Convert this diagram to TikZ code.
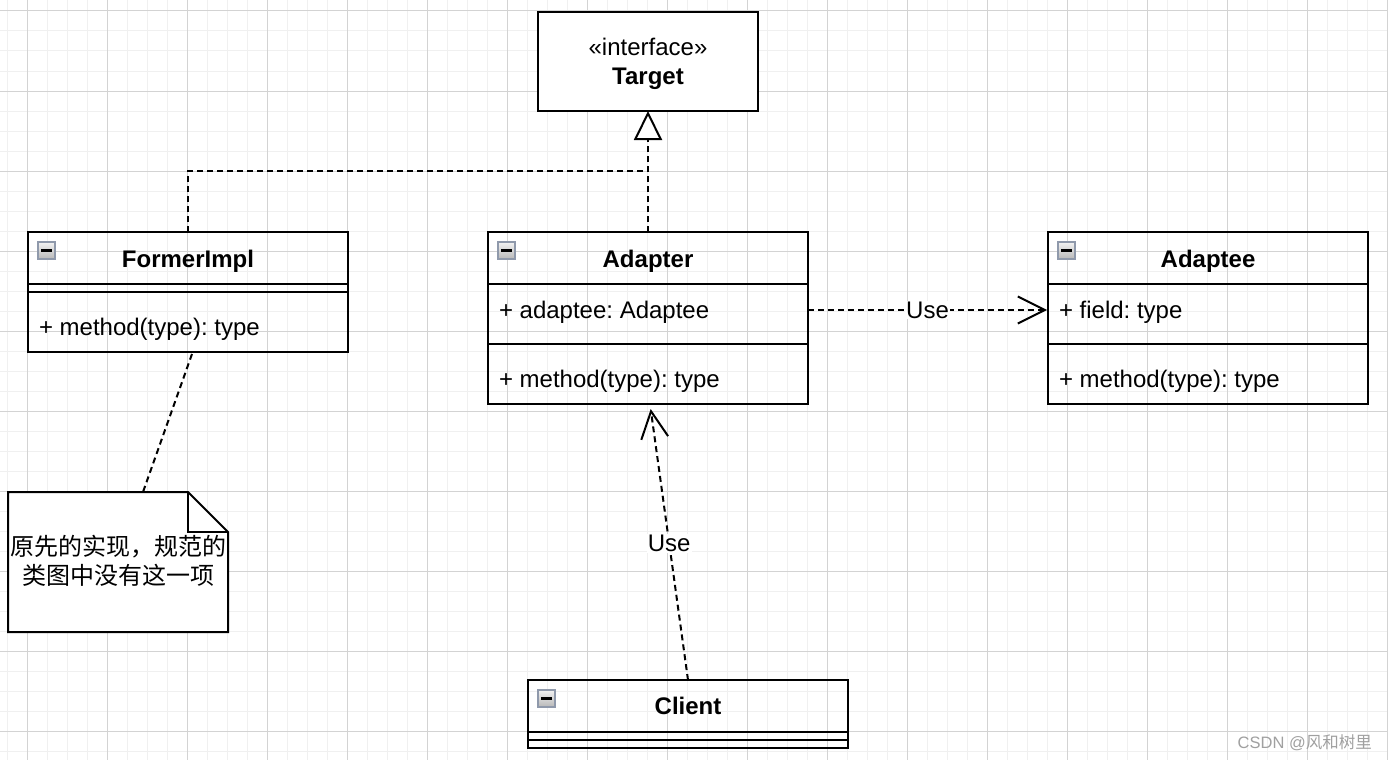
\documentclass[tikz,border=0pt]{standalone}
\usepackage{fontspec}
\setmainfont{Liberation Sans}
\newfontfamily\cjk{Noto Sans CJK SC}
\usetikzlibrary{arrows.meta,shadings}
\frenchspacing
\definecolor{minorgrid}{HTML}{F0F0F0}
\definecolor{majorgrid}{HTML}{D3D3D3}
\definecolor{iconborder}{HTML}{8F99AB}
\definecolor{icontop}{HTML}{F2F2F2}
\definecolor{iconbot}{HTML}{B8B8B8}
\definecolor{wmgrey}{HTML}{A0A0A0}
\tikzset{
  cls/.style={draw=black, line width=2pt, minimum width=320pt, inner sep=0pt, outer sep=0pt, anchor=north west},
  txt/.style={inner sep=0pt, outer sep=0pt, font=\fontsize{24}{28}\selectfont},
  btxt/.style={inner sep=0pt, outer sep=0pt, font=\fontsize{24}{28}\selectfont\bfseries},
  dline/.style={draw=black, line width=2pt, dash pattern=on 6pt off 4pt},
  lbl/.style={fill=white, inner sep=1pt, font=\fontsize{24}{28}\selectfont},
  clsicon/.style={draw=iconborder, line width=1.2pt, minimum size=17pt, inner sep=0pt,
    top color=icontop, bottom color=iconbot,
    path picture={\draw[line width=2.2pt, black] ([xshift=-5.5pt]path picture bounding box.center) -- ([xshift=5.5pt]path picture bounding box.center);}},
  barb/.style={-{Straight Barb[length=27pt,width=27pt,line width=2pt]}}
}
\begin{document}
\begin{tikzpicture}[x=1pt,y=-1pt]
\useasboundingbox (0,0) rectangle (1388,760);
\fill[white] (0,0) rectangle (1388,760);
% grid
\foreach \i in {0,...,69} \draw[minorgrid, line width=1pt] (7+20*\i,0) -- (7+20*\i,760);
\foreach \i in {0,...,37} \draw[minorgrid, line width=1pt] (0,11+20*\i) -- (1388,11+20*\i);
\foreach \i in {0,...,17} \draw[majorgrid, line width=1pt] (27+80*\i,0) -- (27+80*\i,760);
\foreach \i in {0,...,9} \draw[majorgrid, line width=1pt] (0,11+80*\i) -- (1388,11+80*\i);

% Target interface
\node[cls, fill=white, minimum width=220pt, minimum height=99pt] (target) at (538,12) {};
\node[txt, anchor=base] (targetst) at (648,55.5) {«interface»};
\node[btxt, anchor=base] (targetname) at (648,84) {Target};

% FormerImpl
\node[cls, minimum height=52pt] (formerH) at (28,232) {};
\node[cls, minimum height=8pt] (formerS) at (28,284) {};
\node[cls, minimum height=60pt] (formerM) at (28,292) {};
\node[clsicon] (iconF) at (46.5,250.5) {};
\node[btxt, anchor=base] (formerName) at (188,267.5) {FormerImpl};
\node[txt, anchor=base west] (formerMeth) at (39,335) {+ method(type): type};

% Adapter
\node[cls, minimum height=52pt] (adapterH) at (488,232) {};
\node[cls, minimum height=60pt] (adapterA) at (488,284) {};
\node[cls, minimum height=60pt] (adapterM) at (488,344) {};
\node[clsicon] (iconA) at (506.5,250.5) {};
\node[btxt, anchor=base] (adapterName) at (648,267) {Adapter};
\node[txt, anchor=base west] (adapterAttr) at (499,318) {+ adaptee: Adaptee};
\node[txt, anchor=base west] (adapterMeth) at (499,387) {+ method(type): type};

% Adaptee
\node[cls, minimum height=52pt] (adapteeH) at (1048,232) {};
\node[cls, minimum height=60pt] (adapteeA) at (1048,284) {};
\node[cls, minimum height=60pt] (adapteeM) at (1048,344) {};
\node[clsicon] (iconE) at (1066.5,250.5) {};
\node[btxt, anchor=base] (adapteeName) at (1208,267) {Adaptee};
\node[txt, anchor=base west] (adapteeAttr) at (1059,318) {+ field: type};
\node[txt, anchor=base west] (adapteeMeth) at (1059,387) {+ method(type): type};

% Client
\node[cls, minimum height=52pt] (clientH) at (528,680) {};
\node[cls, minimum height=8pt] (clientS) at (528,732) {};
\node[cls, minimum height=8pt] (clientM) at (528,740) {};
\node[clsicon] (iconC) at (546.5,698.5) {};
\node[btxt, anchor=base] (clientName) at (688,714.5) {Client};

% Note
\node[inner sep=0pt, outer sep=0pt, minimum width=220pt, minimum height=140pt, anchor=north west] (note) at (8,492) {};
\draw[line width=2pt, fill=white, line join=miter] (note.north west) -- ([xshift=-40pt]note.north east) -- ([yshift=-40pt]note.north east) -- (note.south east) -- (note.south west) -- cycle;
\draw[line width=2pt] ([xshift=-40pt]note.north east) |- ([yshift=-40pt]note.north east);
\node[inner sep=0pt, anchor=base, font=\cjk\fontsize{24}{28}\selectfont] (noteL1) at (118,555.5) {原先的实现，规范的};
\node[inner sep=0pt, anchor=base, font=\cjk\fontsize{24}{28}\selectfont] (noteL2) at (118,584.5) {类图中没有这一项};

% connectors
\coordinate (bend) at (648,171);
\draw[dline] (formerH.north) |- (bend);
\draw[dline, -{Triangle[open,length=29pt,width=28pt,fill=white,line width=2pt]}] (adapterH.north) -- (target.south);
\draw[dline, barb] ([yshift=4pt]adapterA.east) -- node[lbl] (use1) {Use} ([yshift=4pt,xshift=-1pt]adapteeA.west);
\coordinate (usetip) at (650.7,409);
\draw[dline, barb] (clientH.north) -- node[lbl, pos=0.505] (use2) {Use} (usetip);
\draw[dline] ([xshift=4pt,yshift=-2pt]formerM.south) -- ([xshift=25pt]note.north);

% watermark
\node[inner sep=0pt, anchor=base east, text=wmgrey, font=\fontsize{16.5}{19}\selectfont] (wm) at (1372,748) {CSDN @\cjk 风和树里};
\end{tikzpicture}
\end{document}
